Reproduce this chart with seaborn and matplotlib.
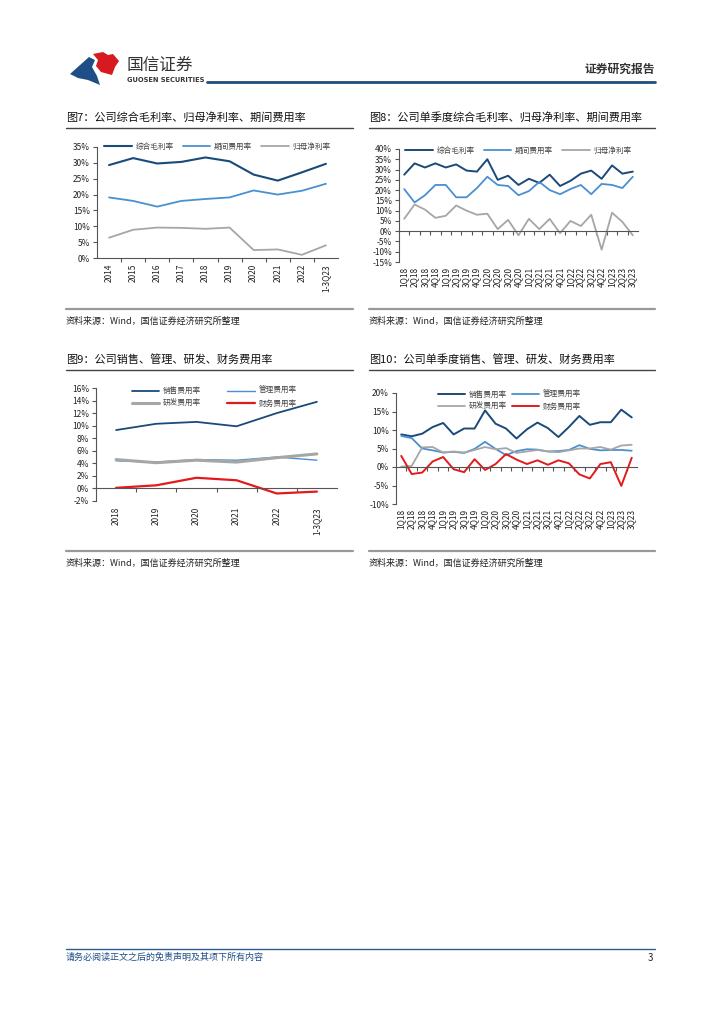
import numpy as np
import pandas as pd
import matplotlib
matplotlib.use("Agg")
import matplotlib.pyplot as plt
import seaborn as sns
from matplotlib.lines import Line2D
from matplotlib.patches import Polygon
from matplotlib.ticker import FixedLocator

# ---- data ----
years7 = ['2014', '2015', '2016', '2017', '2018', '2019', '2020', '2021', '2022', '1-3Q23']
gross7 = [29.3, 31.5, 29.8, 30.3, 31.7, 30.5, 26.3, 24.4, 27.0, 29.7]
expense7 = [19.1, 18.0, 16.2, 18.0, 18.6, 19.1, 21.3, 20.0, 21.2, 23.4]
net7 = [6.4, 8.9, 9.6, 9.5, 9.2, 9.6, 2.5, 2.7, 1.0, 4.0]

quarters = ['1Q18', '2Q18', '3Q18', '4Q18', '1Q19', '2Q19', '3Q19', '4Q19',
            '1Q20', '2Q20', '3Q20', '4Q20', '1Q21', '2Q21', '3Q21', '4Q21',
            '1Q22', '2Q22', '3Q22', '4Q22', '1Q23', '2Q23', '3Q23']
gross8 = [27.5, 33.0, 31.0, 33.0, 31.0, 32.5, 29.5, 29.0, 35.0, 25.0, 27.0, 22.5,
          25.5, 23.5, 27.5, 22.0, 24.5, 28.0, 29.5, 25.5, 32.0, 28.0, 29.0]
expense8 = [20.5, 14.0, 17.5, 22.5, 22.5, 16.5, 16.5, 21.0, 26.5, 22.5, 22.0, 17.5,
            19.5, 24.0, 20.0, 18.0, 20.5, 22.5, 18.0, 23.0, 22.5, 21.0, 26.5]
net8 = [6.0, 13.0, 10.5, 6.5, 7.5, 12.5, 10.0, 8.0, 8.5, 1.0, 5.5, -2.0,
        6.0, 1.0, 6.0, -1.0, 5.0, 2.5, 8.0, -9.0, 9.0, 4.5, -2.0]

years9 = ['2018', '2019', '2020', '2021', '2022', '1-3Q23']
sales9 = [9.3, 10.3, 10.6, 9.9, 12.0, 13.8]
admin9 = [4.4, 4.2, 4.6, 4.5, 5.0, 4.5]
rd9 = [4.6, 4.1, 4.5, 4.2, 4.9, 5.5]
fin9 = [0.1, 0.5, 1.7, 1.3, -0.8, -0.5]

sales10 = [8.8, 8.3, 9.0, 10.8, 11.9, 8.8, 10.4, 10.4, 15.3, 11.7, 10.4, 7.7,
           10.2, 12.0, 10.5, 8.1, 10.8, 13.8, 11.4, 12.1, 12.1, 15.5, 13.4]
admin10 = [8.4, 7.8, 5.0, 4.5, 3.9, 4.1, 3.8, 4.9, 6.8, 4.9, 3.2, 4.3,
           4.8, 4.7, 4.2, 4.3, 4.6, 5.9, 4.9, 4.5, 4.6, 4.6, 4.4]
rd10 = [0.1, 0.3, 5.3, 5.4, 3.9, 4.2, 3.9, 4.6, 5.4, 4.8, 5.1, 3.8,
        4.2, 4.6, 4.2, 4.0, 4.5, 5.0, 5.0, 5.4, 4.7, 5.8, 6.0]
fin10 = [3.0, -1.9, -1.5, 1.5, 2.7, -0.6, -1.4, 2.1, -0.8, 0.8, 3.5, 2.0,
         0.8, 1.8, 0.6, 1.8, 1.0, -2.0, -3.1, 0.8, 1.3, -5.1, 2.5]

NAVY = '#1a4a7a'
BLUE = '#4a90d0'
GRAY = '#a6a6a6'
RED = '#e31a1c'

sns.set_theme(style='white')
plt.rcParams['font.family'] = ['Noto Sans CJK SC', 'DejaVu Sans']
plt.rcParams['axes.unicode_minus'] = False

W, H = 724, 1024
fig = plt.figure(figsize=(7.24, 10.24), dpi=100)


def rect(l, t, r, b):
    return [l / W, 1 - b / H, (r - l) / W, (b - t) / H]


def ftext(x, y, s, **kw):
    fig.text(x / W, 1 - y / H, s, **kw)


def hline(x0, x1, y, color, lw):
    fig.add_artist(Line2D([x0 / W, x1 / W], [1 - y / H, 1 - y / H],
                          color=color, lw=lw, transform=fig.transFigure))


def make_chart(box, labels, series, ylim, ystep, legend_anchor, ncol, colspace, label_gap,
               rowspace=0.35):
    ax = fig.add_axes(rect(*box))
    df = pd.DataFrame({'x': np.arange(len(labels))})
    for name, vals, color, lw in series:
        df[name] = vals
        sns.lineplot(data=df, x='x', y=name, ax=ax, color=color, lw=lw, label=name)
    ax.set_xlim(-0.5, len(labels) - 0.5)
    ax.set_ylim(*ylim)
    ax.set_xlabel('')
    ax.set_ylabel('')
    ax.set_yticks(np.arange(ylim[0], ylim[1] + 0.01, ystep))
    ax.set_yticklabels([f'{v:.0f}%' for v in ax.get_yticks()], fontsize=6, color='#222222')
    for s in ['top', 'right']:
        ax.spines[s].set_visible(False)
    ax.spines['left'].set_color('#555555')
    ax.spines['left'].set_linewidth(0.8)
    ax.spines['bottom'].set_position(('data', 0))
    ax.spines['bottom'].set_color('#555555')
    ax.spines['bottom'].set_linewidth(0.8)
    ax.set_xticks(np.arange(len(labels)))
    ax.xaxis.set_minor_locator(FixedLocator(np.arange(0.5, len(labels) - 0.5, 1)))
    ax.tick_params(axis='x', which='major', length=0, labelbottom=False)
    ax.tick_params(axis='x', which='minor', length=3, width=0.8, color='#555555',
                   direction='out', bottom=True)
    ax.tick_params(axis='y', length=3, width=0.8, color='#555555', direction='out', left=True, pad=2)
    hpx = box[3] - box[1]
    for i, lab in enumerate(labels):
        ax.text(i, -label_gap / hpx, lab, transform=ax.get_xaxis_transform(),
                rotation=90, ha='center', va='top', fontsize=6, color='#222222')
    handles, labs = ax.get_legend_handles_labels()
    if ncol == 2:
        order = [0, 2, 1, 3]
        handles = [handles[k] for k in order]
        labs = [labs[k] for k in order]
    ax.legend(handles, labs, loc='center', bbox_to_anchor=legend_anchor, ncol=ncol,
              frameon=False, fontsize=5.5, handlelength=3.6, handletextpad=0.5,
              columnspacing=colspace, labelspacing=rowspace, labelcolor='#444444')
    return ax


# ---- header ----
ax_logo = fig.add_axes([0, 0, 1, 1], zorder=-1)
ax_logo.set_xlim(0, W)
ax_logo.set_ylim(H, 0)
ax_logo.axis('off')
ax_logo.add_patch(Polygon([(70, 74), (89, 57), (95, 60), (92, 67), (97, 76), (100, 85),
                           (88, 80), (78, 78)], closed=True, color='#1f4e86', lw=0))
ax_logo.add_patch(Polygon([(93, 54), (103, 52), (108, 55), (113, 54), (119, 61), (115, 67),
                           (112, 75), (101, 72), (96, 66), (98, 60)], closed=True,
                          color='#d71920', lw=0))
ftext(127, 65.5, '国信证券', fontsize=12, color='#333333', va='center', ha='left')
ftext(127, 80.5, 'GUOSEN SECURITIES', fontsize=4.8, color='#333333', va='center',
      ha='left', fontweight='bold', family='DejaVu Sans')
ftext(655, 69, '证券研究报告', fontsize=8.5, color='#333333', va='center', ha='right',
      fontweight='bold')
hline(207, 655, 82, '#1f4e79', 2.0)

# ---- titles and sources ----
TITLE_KW = dict(fontsize=8, color='#111111', va='center', ha='left')
SRC = '资料来源：Wind，国信证券经济研究所整理'
SRC_KW = dict(fontsize=6.5, color='#222222', va='center', ha='left')

ftext(66, 117.5, '图7：公司综合毛利率、归母净利率、期间费用率', **TITLE_KW)
hline(66, 353, 128, '#444444', 1.0)
ftext(369, 117.5, '图8：公司单季度综合毛利率、归母净利率、期间费用率', **TITLE_KW)
hline(369, 655, 128, '#444444', 1.0)
hline(66, 353, 309, '#999999', 1.6)
hline(369, 655, 309, '#999999', 1.6)
ftext(66, 321, SRC, **SRC_KW)
ftext(369, 321, SRC, **SRC_KW)

ftext(66, 359.5, '图9：公司销售、管理、研发、财务费用率', **TITLE_KW)
hline(66, 353, 370, '#444444', 1.0)
ftext(369, 359.5, '图10：公司单季度销售、管理、研发、财务费用率', **TITLE_KW)
hline(369, 655, 370, '#444444', 1.0)
hline(66, 353, 551, '#999999', 1.6)
hline(369, 655, 551, '#999999', 1.6)
ftext(66, 563, SRC, **SRC_KW)
ftext(369, 563, SRC, **SRC_KW)

# ---- charts ----
make_chart((97, 147, 338, 258), years7,
           [('综合毛利率', gross7, NAVY, 1.5), ('期间费用率', expense7, BLUE, 1.3),
            ('归母净利率', net7, GRAY, 1.3)],
           (0, 35), 5, (0.5, 1.0), 3, 1.2, 6)

make_chart((399, 149, 638, 262), quarters,
           [('综合毛利率', gross8, NAVY, 1.4), ('期间费用率', expense8, BLUE, 1.3),
            ('归母净利率', net8, GRAY, 1.3)],
           (-15, 40), 5, (0.5, 0.985), 3, 1.2, 5)

make_chart((96, 388, 337, 501), years9,
           [('销售费用率', sales9, NAVY, 1.3), ('管理费用率', admin9, BLUE, 1.0),
            ('研发费用率', rd9, GRAY, 2.2), ('财务费用率', fin9, RED, 1.6)],
           (-2, 16), 2, (0.49, 0.915), 2, 3.4, 6, rowspace=0.6)

make_chart((396, 393, 637, 504), quarters,
           [('销售费用率', sales10, NAVY, 1.4), ('管理费用率', admin10, BLUE, 1.3),
            ('研发费用率', rd10, GRAY, 1.3), ('财务费用率', fin10, RED, 1.4)],
           (-10, 20), 5, (0.47, 0.93), 2, 0.6, 5, rowspace=0.45)

# ---- footer ----
hline(66, 655, 949, '#2f5f8f', 1.0)
ftext(66, 957, '请务必阅读正文之后的免责声明及其项下所有内容', fontsize=6.5, color='#1f4e86',
      va='center', ha='left', style='italic')
ftext(653, 958, '3', fontsize=7, color='#222222', va='center', ha='right')

fig.savefig('out.png', dpi=100, facecolor='white')
